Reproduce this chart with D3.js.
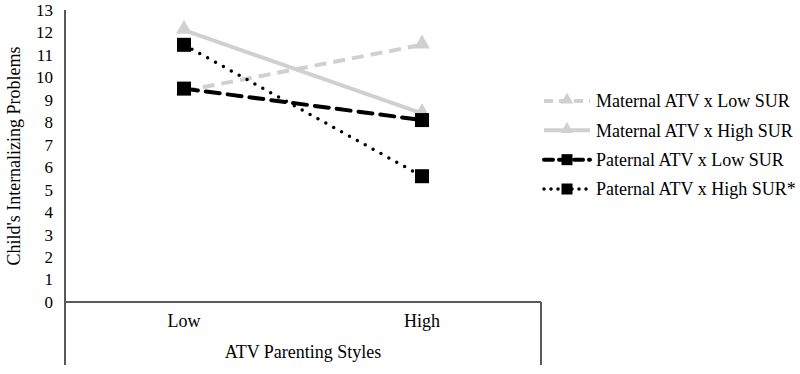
<!DOCTYPE html>
<html><head><meta charset="utf-8">
<script src="https://cdn.jsdelivr.net/npm/d3@7"></script>
<style>body{margin:0;background:#fff}svg{display:block;font-family:"Liberation Serif","Times New Roman",serif}</style>
</head><body><svg id="c" width="800" height="374"></svg>
<script>
const categories = ["Low", "High"];
const yTicks = [0,1,2,3,4,5,6,7,8,9,10,11,12,13];
const seriesNames = ["Maternal ATV x Low SUR","Maternal ATV x High SUR","Paternal ATV x Low SUR","Paternal ATV x High SUR*"];
const maternalLowSUR = [9.4, 11.45];
const maternalHighSUR = [12.1, 8.4];
const paternalLowSUR = [9.5, 8.1];
const paternalHighSUR = [11.45, 5.6];

const svg = d3.select("#c");
const x = d3.scaleBand().domain(categories).range([65, 541]);
const y = d3.scaleLinear().domain([0, 13]).range([302, 10]);

const series = [
  {name: seriesNames[0], values: maternalLowSUR, color: "#d0d0d0", dash: "12,7", cap: "butt", width: 4, marker: "tri"},
  {name: seriesNames[1], values: maternalHighSUR, color: "#d0d0d0", dash: null, cap: "butt", width: 4, marker: "tri"},
  {name: seriesNames[2], values: paternalLowSUR, color: "#000", dash: "14,8", cap: "round", width: 4, marker: "sq"},
  {name: seriesNames[3], values: paternalHighSUR, color: "#000", dash: "0,9", cap: "round", width: 3.5, marker: "sq"}
];

// axes
const axisColor = "#595959";
svg.append("line").attr("x1",65).attr("x2",65).attr("y1",y(13)).attr("y2",365).attr("stroke",axisColor).attr("stroke-width",2);
svg.append("line").attr("x1",65).attr("x2",541).attr("y1",y(0)).attr("y2",y(0)).attr("stroke",axisColor).attr("stroke-width",2);
svg.append("line").attr("x1",541).attr("x2",541).attr("y1",y(0)).attr("y2",365).attr("stroke",axisColor).attr("stroke-width",2);

svg.selectAll("text.yt").data(yTicks).enter().append("text")
  .attr("x",53).attr("y",d=>y(d)).attr("dy","0.35em").attr("text-anchor","end")
  .attr("font-size",17).attr("fill","#000").text(d=>d);

svg.selectAll("text.xt").data(categories).enter().append("text")
  .attr("x",d=>x(d)+x.bandwidth()/2).attr("y",327).attr("text-anchor","middle")
  .attr("font-size",18).attr("fill","#000").text(d=>d);

svg.append("text").attr("x",303).attr("y",358).attr("text-anchor","middle").attr("font-size",18).text("ATV Parenting Styles");
svg.append("text").attr("transform","translate(20,156) rotate(-90)").attr("text-anchor","middle").attr("font-size",18).text("Child's Internalizing Problems");

const cx = d => x(d) + x.bandwidth()/2;
const line = d3.line().x(d=>cx(d.c)).y(d=>y(d.v));

function drawMarker(g, type, px, py, color, s) {
  if (type === "sq") {
    g.append("rect").attr("x",px-s/2).attr("y",py-s/2).attr("width",s).attr("height",s).attr("fill","#000");
  } else {
    g.append("path").attr("d", d3.symbol().type(d3.symbolTriangle).size(s*s*0.56)()).attr("transform",`translate(${px},${py-1})`).attr("fill",color);
  }
}

series.forEach(s => {
  const pts = categories.map((c,i)=>({c, v:s.values[i]}));
  svg.append("path").datum(pts).attr("d",line).attr("fill","none")
    .attr("stroke",s.color).attr("stroke-width",s.width)
    .attr("stroke-dasharray",s.dash).attr("stroke-linecap",s.cap);
});
series.forEach(s => {
  const g = svg.append("g");
  categories.forEach((c,i)=>drawMarker(g, s.marker, cx(c), y(s.values[i]), s.color, 14));
});

// legend
const ly = d3.scalePoint().domain(seriesNames).range([101, 189]);
series.forEach(s => {
  const yy = ly(s.name);
  svg.append("line").attr("x1",544).attr("x2",590).attr("y1",yy).attr("y2",yy)
    .attr("stroke",s.color).attr("stroke-width",s.width)
    .attr("stroke-dasharray", s.dash ? (s.dash==="0,9" ? "0,7" : "9,6") : null)
    .attr("stroke-linecap",s.cap);
  const g = svg.append("g");
  drawMarker(g, s.marker, 567, yy, s.color, 11);
  svg.append("text").attr("x",596).attr("y",yy).attr("dy","0.35em").attr("font-size",18).text(s.name);
});
</script></body></html>
